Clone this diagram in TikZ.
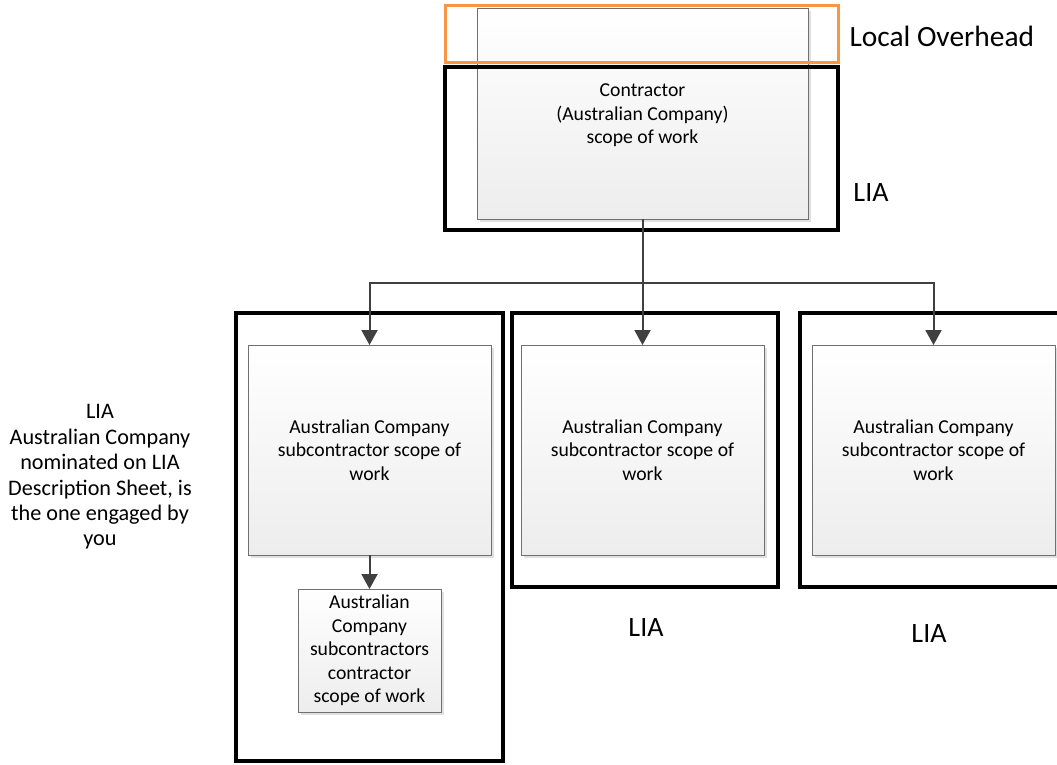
\documentclass[tikz,border=0pt]{standalone}
\usepackage{fontspec}
\setmainfont{Carlito}
\usetikzlibrary{arrows.meta,shadows}
\definecolor{orangeframe}{HTML}{F79646}
\definecolor{conncol}{HTML}{404040}
\definecolor{boxedge}{HTML}{707070}
\definecolor{boxbot}{HTML}{EDEDED}
\tikzset{
  boxtxt/.style={font=\fontsize{19.7}{23.6}\selectfont, align=center},
  scopebox/.style={draw=boxedge, line width=0.9pt, top color=white, bottom color=boxbot,
     anchor=north west, inner sep=0pt, outer sep=0pt,
     drop shadow={shadow xshift=3pt, shadow yshift=-3pt, fill=black!12, opacity=1},
     boxtxt},
  liaframe/.style={draw=black, line width=4pt, fill=white, anchor=north west, inner sep=0pt, outer sep=0pt,
     drop shadow={shadow xshift=2pt, shadow yshift=-2pt, fill=black!10, opacity=1}},
  topframe/.style={line width=4pt, anchor=north west, inner sep=0pt, outer sep=0pt},
  conn/.style={draw=conncol, line width=2pt, -{Triangle[width=16pt,length=15pt]}},
  liatxt/.style={font=\fontsize{28}{33}\selectfont},
}
\begin{document}
\begin{tikzpicture}[x=1pt,y=-1pt]
\useasboundingbox (0,0) rectangle (1057,764);
% frames of lower level
\node[liaframe, minimum width=267pt, minimum height=448pt] (fr1) at (236,313) {};
\node[liaframe, minimum width=266pt, minimum height=274pt] (fr2) at (512,313) {};
\node[liaframe, minimum width=270pt, minimum height=274pt] (fr3) at (800,313) {};
% contractor box
\node[scopebox, minimum width=331pt, minimum height=211pt] (contr) at (477,8) {};
\node[boxtxt] (contrtxt) at ([yshift=-2pt]contr.center) {Contractor\\(Australian Company)\\scope of work};
% frames on top
\node[topframe, draw=orangeframe, line width=3pt, minimum width=393pt, minimum height=57pt] (ovh) at (445,5) {};
\node[topframe, draw=black, minimum width=393pt, minimum height=163pt] (fr0) at (445,67) {};
% subcontractor boxes
\node[scopebox, minimum width=243pt, minimum height=210pt] (sub1) at (248,345) {};
\node[boxtxt] (sub1txt) at (sub1.center) {Australian Company\\subcontractor scope of\\work};
\node[scopebox, minimum width=243pt, minimum height=210pt] (sub2) at (521,345) {};
\node[boxtxt] (sub2txt) at (sub2.center) {Australian Company\\subcontractor scope of\\work};
\node[scopebox, minimum width=243pt, minimum height=210pt] (sub3) at (812,345) {};
\node[boxtxt] (sub3txt) at (sub3.center) {Australian Company\\subcontractor scope of\\work};
\node[scopebox, minimum width=143pt, minimum height=123pt] (subsub) at (298,589) {};
\node[boxtxt] (subsubtxt) at (subsub.center) {Australian\\Company\\subcontractors\\contractor\\scope of work};
% connectors
\coordinate (bus) at (0,283);
\draw[conn] (contr.south) -- (sub2.north);
\draw[conn] (contr.south |- bus) -| (sub1.north);
\draw[conn] (contr.south |- bus) -| (sub3.north);
\draw[conn] (sub1.south) -- (subsub.north);
% labels
\node[font=\fontsize{29.4}{34}\selectfont, anchor=west] (lovh) at (846,36) {Local Overhead};
\node[liatxt] (lia0) at (871,193) {LIA};
\node[liatxt] (lia2) at (646,628) {LIA};
\node[liatxt] (lia3) at (929,634) {LIA};
\node[font=\fontsize{22.2}{25.4}\selectfont, align=center] (lia1) at (100,477)
  {LIA\\Australian Company\\nominated on LIA\\Description Sheet, is\\the one engaged by\\you};
\end{tikzpicture}
\end{document}
